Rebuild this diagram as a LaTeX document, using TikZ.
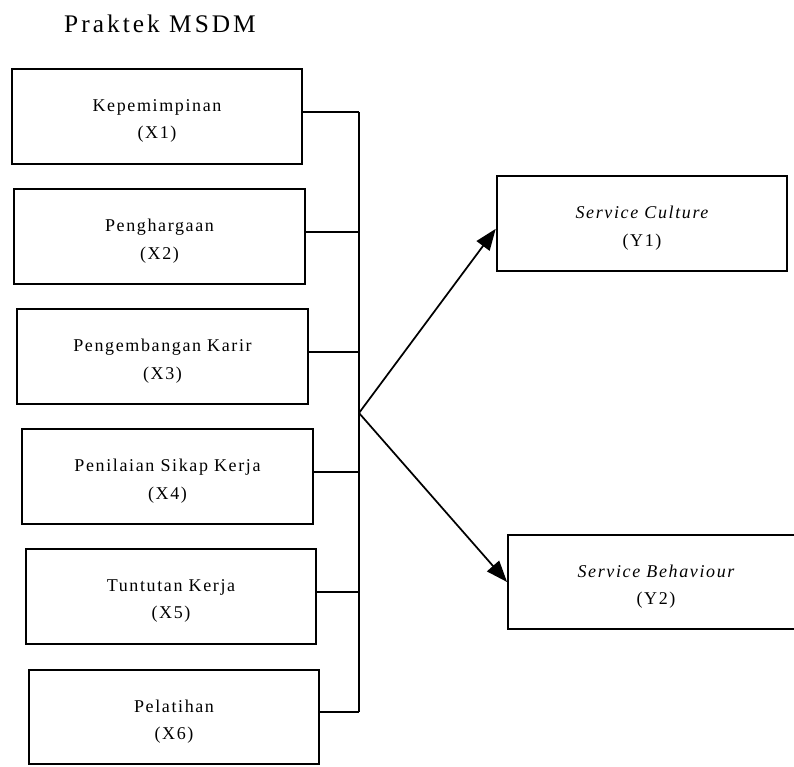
\documentclass[tikz,border=0pt]{standalone}
\usepackage{fontspec}
\setmainfont{Liberation Serif}
\newfontfamily\boxfont[LetterSpace=9]{Liberation Serif}
\newfontfamily\titlefont[LetterSpace=12]{Liberation Serif}
\usetikzlibrary{arrows.meta}
\begin{document}
\begin{tikzpicture}[x=0.75pt,y=-0.75pt,
  varbox/.style={draw, line width=1.4pt, minimum width=218pt, minimum height=71pt, inner sep=0pt},
  vartext/.style={align=center, font=\boxfont\fontsize{13.5}{20.5}\selectfont, yshift=-3.5pt, inner sep=0pt},
  link/.style={line width=1.3pt},
  effect/.style={line width=1.3pt, -{Triangle[length=16pt,width=12pt]}}]
\useasboundingbox (0,0) rectangle (794,767);

% heading
\node[font=\titlefont\fontsize{19}{22}\selectfont, anchor=base] (title) at (160,33) {Praktek MSDM};

% independent variables
\node[varbox, label={[vartext]center:{Kepemimpinan\\(X1)}}] (x1) at (157,116.5) {};
\node[varbox, label={[vartext]center:{Penghargaan\\(X2)}}] (x2) at (159.5,236.5) {};
\node[varbox, label={[vartext]center:{Pengembangan Karir\\(X3)}}] (x3) at (162.5,356.5) {};
\node[varbox, label={[vartext]center:{Penilaian Sikap Kerja\\(X4)}}] (x4) at (167.5,476.5) {};
\node[varbox, label={[vartext]center:{Tuntutan Kerja\\(X5)}}] (x5) at (171,596.5) {};
\node[varbox, label={[vartext]center:{Pelatihan\\(X6)}}] (x6) at (174,717) {};

% dependent variables
\node[varbox, label={[vartext]center:{\itshape Service Culture\\(Y1)}}] (y1) at (642,223.5) {};
\node[varbox, minimum width=222pt, label={[vartext]center:{\itshape Service Behaviour\\(Y2)}}] (y2) at (656,582) {};

% collecting bus
\coordinate (bus) at (359,0);
\coordinate (hub) at (359,413);
\foreach \n in {x1,x2,x3,x4,x5,x6}
  \draw[link] ([yshift=3.5pt]\n.east) -- ([yshift=3.5pt]\n.east -| bus);
\draw[link] ([yshift=3.5pt]x1.east -| bus) -- ([yshift=3.5pt]x6.east -| bus);

% effects
\draw[effect] (hub) -- ([yshift=-4pt]y1.west);
\draw[effect] (hub) -- (y2.west);
\end{tikzpicture}
\end{document}
